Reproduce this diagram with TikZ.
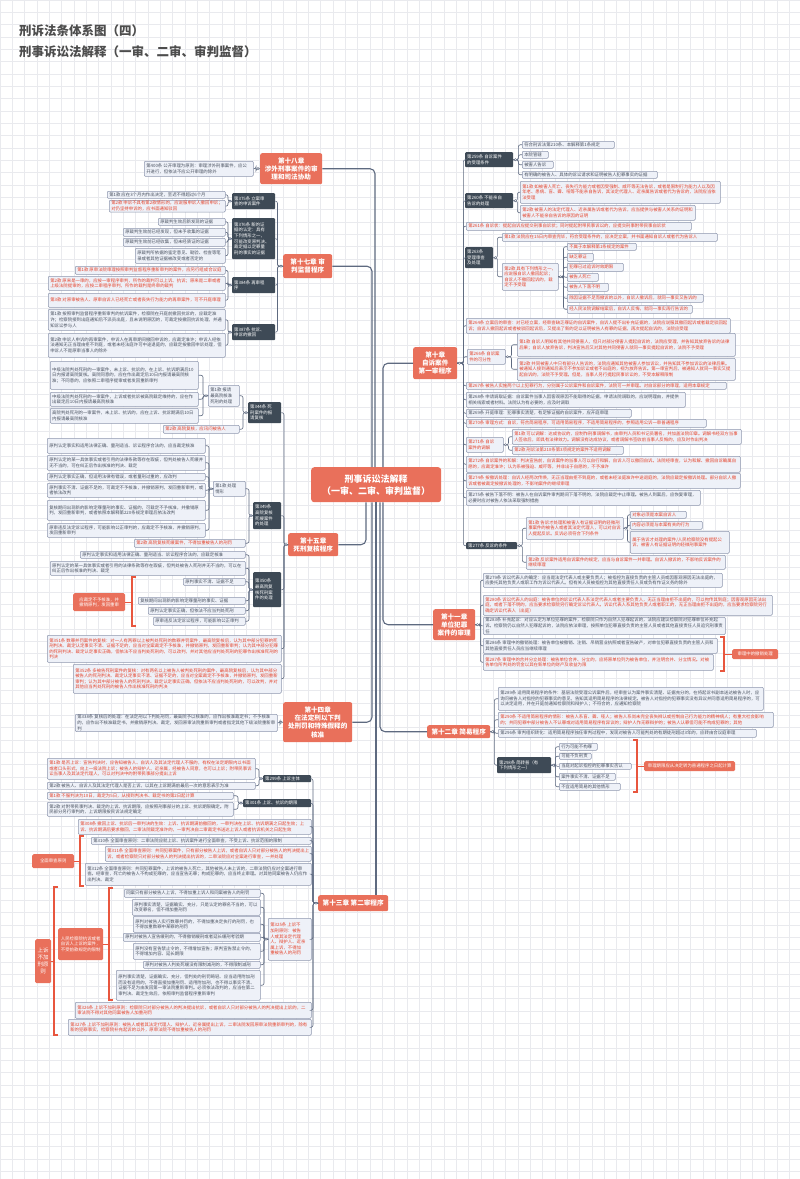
\documentclass[tikz,border=0pt]{standalone}
\usepackage{fontspec}
\setmainfont{Noto Sans CJK SC}
\usetikzlibrary{calc}
\XeTeXlinebreaklocale "zh"
\XeTeXlinebreakskip=0pt plus 0.3pt
\definecolor{sal}{HTML}{E9705B}
\definecolor{drk}{HTML}{3E4A56}
\definecolor{bxf}{HTML}{EEF1F8}
\definecolor{bxd}{HTML}{8E97AE}
\definecolor{txg}{HTML}{4A5260}
\definecolor{txr}{HTML}{E5432B}
\definecolor{cnl}{HTML}{5E6A80}
\definecolor{grd}{HTML}{E9EAEE}
\definecolor{brc}{HTML}{E8563E}
\definecolor{ttl}{HTML}{4D4D4D}
\tikzset{
 bstyle/.style={inner xsep=2pt,inner ysep=1pt,align=flush left,font=\fontsize{4.4}{5.6}\selectfont,rounded corners=1pt},
 gbox/.style={bstyle,fill=bxf,draw=bxd,line width=0.5pt,text=txg},
 rbox/.style={gbox,text=txr},
 dbox/.style={bstyle,fill=drk,text=white},
 chap/.style={bstyle,fill=sal,text=white,align=flush center,font=\fontsize{6.6}{8.2}\selectfont\bfseries,rounded corners=2pt},
 cen/.style={bstyle,fill=sal,text=white,align=flush center,font=\fontsize{9}{12}\selectfont\bfseries,rounded corners=3pt},
 lab/.style={bstyle,fill=sal,text=white,align=flush center,rounded corners=1.5pt},
 conn/.style={draw=cnl,line width=0.6pt,rounded corners=2pt},
 cmain/.style={draw=cnl,line width=1.1pt,rounded corners=5pt},
 brk/.style={draw=brc,line width=1.2pt},
 mk/.style={draw=cnl,fill=white,line width=0.4pt},
}
\newcommand\mybox[7]{%
 \pgfmathsetmacro\bxw{#5-#3}%
 \pgfmathsetmacro\bxh{#6-#4}%
 \pgfmathsetmacro\bxt{#5-#3-4}%
 \node[#1,anchor=north west,minimum width=\bxw pt,minimum height=\bxh pt,text width=\bxt pt] (#2) at (#3,-#4) {#7};}
\newcommand\conL[3]{\draw[conn] (#1.west) -- ++(-#3pt,0) |- (#2.east);}
\newcommand\conR[3]{\draw[conn] (#1.east) -- ++(#3pt,0) |- (#2.west);}
\newcommand\mkW[1]{\draw[mk] ($(#1.west)+(-2,0)$) circle (1.2pt);}
\newcommand\mkE[1]{\draw[mk] ($(#1.east)+(2,0)$) circle (1.2pt);}
\begin{document}
\begin{tikzpicture}[x=1pt,y=1pt]
\useasboundingbox (0,0) rectangle (800,-1179);
\fill[white] (0,0) rectangle (800,-1179);
\draw[grd,line width=0.5pt] (0,-1179) grid[step=12.33pt] (800,0);

% titles
\node[anchor=west,inner sep=0pt,font=\fontsize{12.5}{14}\selectfont\bfseries,text=ttl] (tt1) at (19,-31) {刑诉法条体系图（四）};
\node[anchor=west,inner sep=0pt,font=\fontsize{12.5}{14}\selectfont\bfseries,text=ttl] (tt2) at (19,-51.5) {刑事诉讼法解释（一审、二审、审判监督）};

% centre and chapters
\mybox{cen}{cen}{311}{467}{441}{502}{刑事诉讼法解释\\（一审、二审、审判监督）}
\mybox{chap}{c18}{260}{153}{322}{184}{第十八章\\涉外刑事案件的审\\理和司法协助}
\mybox{chap}{c17}{283}{254}{332}{278}{第十七章 审\\判监督程序}
\mybox{chap}{c15}{288}{533}{338}{556}{第十五章\\死刑复核程序}
\mybox{chap}{c14}{283}{702}{352}{742}{第十四章\\在法定刑以下判\\处刑罚和特殊假释的\\核准}
\mybox{chap}{c13}{318}{895}{388}{911}{第十三章 第二审程序}
\mybox{chap}{c10}{413}{347}{457}{379}{第十章\\自诉案件\\第一审程序}
\mybox{chap}{c11}{433}{609}{475}{640}{第十一章\\单位犯罪\\案件的审理}
\mybox{chap}{c12}{427}{725}{490}{738}{第十二章 简易程序}

% ===== chapter 18
\mybox{gbox}{a400}{144}{161}{253}{176}{第400条 公开审理为原则：审理涉外刑事案件，应公开进行，但依法不应公开审理的除外}

% ===== chapter 17
\mybox{dbox}{d375}{232}{193}{275}{209}{第375条 立案审\\查的申诉案件}
\mybox{gbox}{a375a}{107}{191}{225}{198}{第1款 应在3个月内作出决定，至迟不得超过6个月}
\mybox{rbox}{a375b}{109}{200}{225}{209}{第2款 申诉不具有第2款情形的，应说服申诉人撤回申诉；对仍坚持申诉的，应书面通知驳回}
\mybox{dbox}{d376}{232}{218}{275}{259}{第376条 新的证\\据的认定：具有\\下列情形之一，\\可能改变原判决、\\裁定据以定罪量\\刑的事实的证据}
\mybox{gbox}{g376a}{158}{218}{225}{225}{原裁判生效后新发现的证据}
\mybox{gbox}{g376b}{123}{228}{225}{236}{原裁判生效前已经发现，但未予收集的证据}
\mybox{gbox}{g376c}{123}{238}{225}{246}{原裁判生效前已经收集，但未经质证的证据}
\mybox{gbox}{g376d}{135}{248}{225}{263}{原裁判所依据的鉴定意见、勘验、检查等笔录或者其他证据被改变或者否定的}
\mybox{dbox}{d384}{232}{277}{275}{293}{第384条 再审程\\序}
\mybox{rbox}{r384a}{75}{266}{225}{274}{第1款 原审法院审理按照审判监督程序重新审判的案件，应另行组成合议庭}
\mybox{rbox}{r384b}{48}{276}{225}{290}{第2款 原来是一审的，应按一审程序审判，所作的裁判可以上诉、抗诉；原来是二审或者上级法院提审的，应按二审程序审判，所作的裁判是终审的裁判}
\mybox{rbox}{r384c}{48}{293}{225}{307}{第3款 对原审被告人、原审自诉人已经死亡或者丧失行为能力的再审案件，可不开庭审理}
\mybox{dbox}{d387}{232}{324}{275}{340}{第387条 抗诉、\\申诉的撤回}
\mybox{gbox}{g387a}{48}{309}{225}{330}{第1款 按照审判监督程序重新审判的抗诉案件，检察院在开庭前撤回抗诉的，应裁定准许；检察院接到出庭通知后不派员出庭，且未说明原因的，可裁定按撤回抗诉处理，并通知诉讼参与人}
\mybox{gbox}{g387b}{48}{333}{225}{357}{第2款 申诉人申诉的再审案件，申诉人在再审期间撤回申诉的，应裁定准许；申诉人经依法通知无正当理由拒不到庭，或者未经法庭许可中途退庭的，应裁定按撤回申诉处理，但申诉人不是原审当事人的除外}

% ===== chapter 15
\mybox{dbox}{d344}{248}{402}{281}{423}{第344条 死\\刑案件的报\\请复核}
\mybox{gbox}{r344k}{208}{385}{239}{406}{第1款 报请\\最高院核准\\死刑的处理}
\mybox{gbox}{g344a}{50}{361}{198}{389}{中级法院判处死刑的一审案件，未上诉、抗诉的，在上诉、抗诉期满后10日内报请高院复核。高院同意的，应在作出裁定后10日内报请最高院核准；不同意的，应依照二审程序提审或者发回重新审判}
\mybox{gbox}{g344b}{50}{392}{198}{406}{中级法院判处死刑的一审案件，上诉或者抗诉被高院裁定维持的，应在作出裁定后10日内报请最高院核准}
\mybox{gbox}{g344c}{50}{408}{198}{423}{高院判处死刑的一审案件，未上诉、抗诉的，应在上诉、抗诉期满后10日内报请最高院核准}
\mybox{rbox}{r344m}{163}{425}{239}{433}{第2款 高院复核，应讯问被告人}
\mybox{dbox}{d349}{253}{502}{281}{529}{第349条\\高院复核\\死缓案件\\的处理}
\mybox{gbox}{g349k}{213}{481}{245}{496}{第1款 处理\\情形}
\mybox{gbox}{g349a}{47}{438}{205}{453}{原判认定事实和适用法律正确、量刑适当、诉讼程序合法的，应当裁定核准}
\mybox{gbox}{g349b}{47}{455}{205}{470}{原判认定的某一具体事实或者引用的法律条款等存在瑕疵，但判处被告人死缓并无不当的，可在纠正后作出核准的判决、裁定}
\mybox{gbox}{g349c}{47}{473}{205}{480}{原判认定事实正确，但适用法律有错误，或者量刑过重的，应改判}
\mybox{gbox}{g349d}{47}{483}{205}{497}{原判事实不清、证据不足的，可裁定不予核准，并撤销原判，发回重新审判，或者依法改判}
\mybox{gbox}{g349e}{47}{500}{205}{520}{复核期间出现新的影响定罪量刑的事实、证据的，可裁定不予核准，并撤销原判，发回重新审判，或者依照本解释第220条规定审理后依法改判}
\mybox{gbox}{g349f}{47}{523}{205}{537}{原审违反法定诉讼程序，可能影响公正审判的，应裁定不予核准，并撤销原判，发回重新审判}
\mybox{rbox}{r349m}{134}{539}{245}{547}{第2款 高院复核死缓案件，不得加重被告人的刑罚}
\mybox{dbox}{d350}{253}{572}{281}{607}{第350条\\最高院复\\核死刑案\\件的处理}
\mybox{gbox}{g350a}{80}{551}{245}{558}{原判认定事实和适用法律正确、量刑适当、诉讼程序合法的，应裁定核准}
\mybox{gbox}{g350b}{50}{561}{245}{575}{原判认定的某一具体事实或者引用的法律条款等存在瑕疵，但判处被告人死刑并无不当的，可以在纠正后作出核准的判决、裁定}
\mybox{gbox}{g350c}{183}{578}{245}{585}{原判事实不清、证据不足}
\mybox{gbox}{g350d}{138}{597}{245}{604}{复核期间出现新的影响定罪量刑的事实、证据}
\mybox{gbox}{g350e}{148}{607}{245}{614}{原判认定事实正确，但依法不应当判处死刑}
\mybox{gbox}{g350f}{153}{617}{245}{625}{原审违反法定诉讼程序，可能影响公正审判}
\mybox{lab}{lab350}{73}{593}{125}{611}{应裁定不予核准，并\\撤销原判，发回重审}
\mybox{rbox}{r351}{47}{635}{281}{662}{第351条 数罪并罚案件的复核：对一人有两罪以上被判处死刑的数罪并罚案件，最高院复核后，认为其中部分犯罪的死刑判决、裁定认定事实不清、证据不足的，应当对全案裁定不予核准，并撤销原判，发回重新审判；认为其中部分犯罪的死刑判决、裁定认定事实正确，但依法不应当判处死刑的，可以改判，并对其他应当判处死刑的犯罪作出核准死刑的判决}
\mybox{rbox}{r352}{73}{664}{281}{693}{第352条 多被告死刑案件的复核：对有两名以上被告人被判处死刑的案件，最高院复核后，认为其中部分被告人的死刑判决、裁定认定事实不清、证据不足的，应当对全案裁定不予核准，并撤销原判，发回重新审判；认为其中部分被告人的死刑判决、裁定认定事实正确，但依法不应当判处死刑的，可以改判，并对其他应当判处死刑的被告人作出核准死刑的判决}

% ===== chapter 14
\mybox{gbox}{g338}{75}{714}{277}{729}{第338条 复核后的处理：在法定刑以下判处刑罚，最高院予以核准的，应作出核准裁定书；不予核准的，应作出不核准裁定书，并撤销原判决、裁定，发回原审法院重新审判或者指定其他下级法院重新审判}

% ===== chapter 13
\mybox{dbox}{d299}{263}{775}{311}{782}{第299条 上诉主体}
\mybox{rbox}{r299a}{47}{758}{255}{779}{第1款 是否上诉：宣告判决时，应告知被告人、自诉人及其法定代理人不服的，有权在法定期限内以书面或者口头形式，向上一级法院上诉；被告人的辩护人、近亲属，经被告人同意，也可以上诉；附带民事诉讼当事人及其法定代理人，可以对判决中的附带民事部分提出上诉}
\mybox{gbox}{g299b}{47}{782}{255}{789}{第2款 被告人、自诉人及其法定代理人是否上诉，以其在上诉期满前最后一次的意思表示为准}
\mybox{dbox}{d301}{243}{799}{311}{807}{第301条 上诉、抗诉的期限}
\mybox{rbox}{r301a}{47}{792}{233}{799}{第1款 不服判决为10日，裁定为5日，从接到判决书、裁定书的第2日起计算}
\mybox{gbox}{g301b}{47}{802}{233}{816}{第2款 对附带民事判决、裁定的上诉、抗诉期限，应按照刑事部分的上诉、抗诉期限确定。附民部分另行审判的，上诉期限按民诉法规定确定}
\mybox{rbox}{r308}{78}{819}{311}{834}{第308条 撤回上诉、抗诉后一审判决的生效：上诉、抗诉期满前撤回的，一审判决在上诉、抗诉期满之日起生效；上诉、抗诉期满后要求撤回，二审法院裁定准许的，一审判决自二审裁定书送达上诉人或者抗诉机关之日起生效}
\mybox{gbox}{g310}{91}{837}{311}{844}{第310条 全面审查原则：二审法院应就上诉、抗诉案件进行全面审查，不受上诉、抗诉范围的限制}
\mybox{rbox}{r311}{105}{846}{311}{861}{第311条 全面审查原则：共同犯罪案件，只有部分被告人上诉，或者自诉人只对部分被告人的判决提出上诉，或者检察院只对部分被告人的判决提出抗诉的，二审法院应对全案进行审查，一并处理}
\mybox{gbox}{g312}{85}{863}{311}{885}{第312条 全面审查原则：共同犯罪案件，上诉的被告人死亡，其他被告人未上诉的，二审法院仍应对全案进行审查。经审查，死亡的被告人不构成犯罪的，应当宣告无罪；构成犯罪的，应当终止审理。对其他同案被告人仍应作出判决、裁定}
\mybox{lab}{labQ}{32}{854}{74}{868}{全面审查原则}
\mybox{rbox}{r325}{268}{918}{311}{960}{第325条 上诉不\\加刑原则：被告\\人或其法定代理\\人、辩护人、近亲\\属上诉，不得加\\重被告人的刑罚}
\mybox{gbox}{g325a}{124}{889}{260}{897}{同案只有部分被告人上诉，不得加重上诉人和同案被告人的刑罚}
\mybox{gbox}{g325b}{132}{899}{260}{915}{原判事实清楚，证据确实、充分，只是认定的罪名不当的，可以改变罪名，但不得加重刑罚}
\mybox{gbox}{g325c}{133}{916}{260}{932}{原判对被告人实行数罪并罚的，不得加重决定执行的刑罚，也不得加重数罪中某罪的刑罚}
\mybox{gbox}{g325d}{123}{933}{260}{941}{原判对被告人宣告缓刑的，不得撤销缓刑或者延长缓刑考验期}
\mybox{gbox}{g325e}{133}{943}{260}{959}{原判没有宣告禁止令的，不得增加宣告；原判宣告禁止令的，不得增加内容、延长期限}
\mybox{gbox}{g325f}{143}{961}{260}{968}{原判对被告人判处死缓没有限制减刑的，不得限制减刑}
\mybox{gbox}{g325g}{116}{970}{260}{1000}{原判事实清楚，证据确实、充分，但判处的刑罚畸轻、应当适用附加刑而没有适用的，不得直接加重刑罚、适用附加刑，也不得以事实不清、证据不足为由发回第一审法院重新审判。必须依法改判的，应当在第二审判决、裁定生效后，依照审判监督程序重新审判}
\mybox{lab}{labI}{58}{928}{103}{960}{人民检察院抗诉或者自诉人上诉的案件，不受前款规定的限制}
\node[lab,anchor=north west,minimum width=16pt,minimum height=44pt,text width=12pt,font=\fontsize{5.5}{7}\selectfont] (labO) at (35,-939) {上诉不加刑原则};
\mybox{rbox}{r326}{75}{1002}{311}{1018}{第326条 上诉不加刑原则：检察院只对部分被告人的判决提出抗诉，或者自诉人只对部分被告人的判决提出上诉的，二审法院不得对其他同案被告人加重刑罚}
\mybox{rbox}{r327}{68}{1019}{311}{1035}{第327条 上诉不加刑原则：被告人或者其法定代理人、辩护人、近亲属提出上诉，二审法院发回原审法院重新审判的，除有新的犯罪事实，检察院补充起诉的以外，原审法院不得加重被告人的刑罚}

% ===== chapter 10
\mybox{dbox}{d259}{465}{152}{513}{167}{第259条 自诉案件\\的受理条件}
\mybox{gbox}{g259a}{522}{141}{614}{148}{符合刑诉法第210条、本解释第1条规定}
\mybox{gbox}{g259b}{522}{151}{548}{158}{本院管辖}
\mybox{gbox}{g259c}{522}{161}{553}{168}{被害人告诉}
\mybox{gbox}{g259d}{522}{171}{657}{178}{有明确的被告人、具体的诉讼请求和证明被告人犯罪事实的证据}
\mybox{dbox}{d260}{465}{193}{513}{208}{第260条 不能亲自\\告诉的处理}
\mybox{rbox}{r260a}{520}{181}{720}{203}{第1款 如被害人死亡、丧失行为能力或者因受强制、威吓等无法告诉，或者是限制行为能力人以及因年老、患病、盲、聋、哑等不能亲自告诉，其法定代理人、近亲属告诉或者代为告诉的，法院应当依法受理}
\mybox{rbox}{r260b}{520}{205}{695}{220}{第2款 被害人的法定代理人、近亲属告诉或者代为告诉，应当提供与被害人关系的证明和被害人不能亲自告诉的原因的证明}
\mybox{rbox}{r261}{466}{222}{691}{230}{第261条 自诉状：提起自诉应提交刑事自诉状；同时提起附带民事诉讼的，应提交刑事附带民事自诉状}
\mybox{dbox}{d263}{465}{247}{493}{268}{第263条\\受理审查\\及处理}
\mybox{rbox}{r263a}{502}{233}{717}{241}{第1款 法院应在15日内审查完毕，符合受理条件的，应决定立案，并书面通知自诉人或者代为告诉人}
\mybox{rbox}{r263b}{502}{263}{558}{290}{第2款 具有下列情形之一，应说服自诉人撤回起诉；自诉人不撤回起诉的，裁定不予受理}
\mybox{rbox}{q263a}{567}{243}{636}{250}{不属于本解释第1条规定的案件}
\mybox{rbox}{q263b}{567}{253}{593}{261}{缺乏罪证}
\mybox{rbox}{q263c}{567}{263}{623}{271}{犯罪已过追诉时效期限}
\mybox{rbox}{q263d}{567}{273}{598}{281}{被告人死亡}
\mybox{rbox}{q263e}{567}{283}{608}{291}{被告人下落不明}
\mybox{rbox}{q263f}{567}{294}{703}{302}{除因证据不足而撤诉的以外，自诉人撤诉后，就同一事实又告诉的}
\mybox{rbox}{q263g}{567}{305}{692}{313}{经人民法院调解结案后，自诉人反悔，就同一事实再行告诉的}
\mybox{rbox}{r264}{466}{318}{730}{333}{第264条 立案后的审查：对已经立案，经审查缺乏罪证的自诉案件，自诉人提不出补充证据的，法院应说服其撤回起诉或者裁定驳回起诉；自诉人撤回起诉或者被驳回起诉后，又提出了新的足以证明被告人有罪的证据，再次提起自诉的，法院应受理}
\mybox{rbox}{r266}{467}{349}{505}{364}{第266条 自诉案\\件的可分性}
\mybox{rbox}{r266a}{517}{333}{735}{356}{第1款 自诉人明知有其他共同侵害人，但只对部分侵害人提起自诉的，法院应受理，并告知其放弃告诉的法律后果；自诉人放弃告诉，判决宣告后又对其他共同侵害人就同一事实提起自诉的，法院不予受理}
\mybox{rbox}{r266b}{517}{358}{735}{380}{第2款 共同被害人中只有部分人告诉的，法院应通知其他被害人参加诉讼，并告知其不参加诉讼的法律后果。被通知人接到通知后表示不参加诉讼或者不出庭的，视为放弃告诉。第一审宣判后，被通知人就同一事实又提起自诉的，法院不予受理。但是，当事人另行提起民事诉讼的，不受本解释限制}
\mybox{rbox}{r267}{466}{382}{726}{389}{第267条 被告人实施两个以上犯罪行为，分别属于公诉案件和自诉案件，法院可一并审理。对自诉部分的审理，适用本章规定}
\mybox{gbox}{g268}{466}{392}{685}{407}{第268条 申请调取证据：自诉案件当事人因客观原因不能取得的证据，申请法院调取的，应说明理由，并提供相关线索或者材料。法院认为有必要的，应及时调取}
\mybox{gbox}{g269}{466}{409}{631}{417}{第269条 开庭审理：犯罪事实清楚，有足够证据的自诉案件，应开庭审理}
\mybox{rbox}{r270}{466}{419}{706}{427}{第270条 审理方式：自诉，符合简易程序，可适用简易程序，不适用简易程序的，参照适用公诉一审普通程序}
\mybox{rbox}{r271}{466}{437}{503}{452}{第271条 自诉\\案件的调解}
\mybox{rbox}{r271a}{512}{429}{741}{444}{第1款 可以调解：达成协议的，应制作刑事调解书，由审判人员和书记员署名，并加盖法院印章。调解书经双方当事人签收后，即具有法律效力。调解没有达成协议，或者调解书签收前当事人反悔的，应及时作出判决}
\mybox{rbox}{r271b}{512}{446}{623}{454}{第2款 刑诉法第210条第3项规定的案件不适用调解}
\mybox{rbox}{r272}{466}{456}{740}{472}{第272条 自诉案件的和解：判决宣告前，自诉案件的当事人可以自行和解，自诉人可以撤回自诉。法院经审查，认为和解、撤回自诉确属自愿的，应裁定准许；认为系被强迫、威吓等，并非出于自愿的，不予准许}
\mybox{rbox}{r274}{466}{473}{740}{488}{第274条 按撤诉处理：自诉人经两次传唤，无正当理由拒不到庭的，或者未经法庭准许中途退庭的，法院应裁定按撤诉处理。部分自诉人撤诉或者被裁定按撤诉处理的，不影响案件的继续审理}
\mybox{gbox}{g275}{466}{490}{700}{505}{第275条 被告下落不明：被告人在自诉案件审判期间下落不明的，法院应裁定中止审理。被告人到案后，应恢复审理，必要时应对被告人依法采取强制措施}
\mybox{dbox}{d277}{466}{542}{517}{549}{第277条 反诉的条件}
\mybox{rbox}{r277a}{526}{517}{623}{539}{第1款 告诉才处理和被害人有证据证明的轻微刑事案件的被告人或者其法定代理人，可以对自诉人提起反诉。反诉必须符合下列条件}
\mybox{rbox}{q277a}{630}{511}{686}{518}{对象必须是本案自诉人}
\mybox{rbox}{q277b}{630}{521}{702}{529}{内容必须是与本案有关的行为}
\mybox{rbox}{q277c}{630}{531}{729}{553}{属于告诉才处理的案件/人民检察院没有提起公诉，被害人有证据证明的轻微刑事案件}
\mybox{rbox}{r277b}{526}{555}{725}{569}{第2款 反诉案件适用自诉案件的规定，应当与自诉案件一并审理。自诉人撤诉的，不影响反诉案件的继续审理}

% ===== chapter 11
\mybox{gbox}{g279}{483}{573}{722}{587}{第279条 诉讼代表人的确定：应当是法定代表人或主要负责人；被指控为直接负责的主管人员或因客观原因无法出庭的，应委托其他负责人或职工作为诉讼代表人。但有关人员被指控为其他直接责任人员或负有作证义务的除外}
\mybox{rbox}{r280}{483}{595}{772}{615}{第280条 诉讼代表人的出庭：被告单位的诉讼代表人系法定代表人或者主要负责人，无正当理由拒不出庭的，可以拘传其到庭；因客观原因无法出庭，或者下落不明的，应当要求检察院另行确定诉讼代表人。诉讼代表人系其他负责人或者职工的，无正当理由拒不出庭的，应当要求检察院另行确定诉讼代表人（出庭）}
\mybox{gbox}{g283}{483}{617}{725}{633}{第283条 补充起诉：对应认定为单位犯罪的案件，检察院只作为自然人犯罪起诉的，法院应建议检察院对犯罪单位补充起诉。检察院仍以自然人犯罪起诉的，法院应依法审理，按照单位犯罪直接负责的主管人员或者其他直接责任人员追究刑事责任}
\mybox{gbox}{g286}{483}{638}{717}{653}{第286条 审理中的撤销处理：被告单位被撤销、注销、吊销营业执照或者宣告破产，对单位犯罪直接负责的主管人员和其他直接责任人员应当继续审理}
\mybox{rbox}{r287}{483}{654}{713}{670}{第287条 审理中的合并分立处理：被告单位合并、分立的，应将原单位列为被告单位，并注明合并、分立情况。对被告单位所判处的罚金以其在新单位的财产及收益为限}
\mybox{lab}{lab287}{732}{649}{778}{659}{审理中的撤销处理}

% ===== chapter 12
\mybox{gbox}{g289}{498}{687}{763}{710}{第289条 适用简易程序的条件：基层法院受理公诉案件后，经审查认为案件事实清楚、证据充分的，在将起诉书副本送达被告人时，应询问被告人对指控的犯罪事实的意见，告知其适用简易程序的法律规定。被告人对指控的犯罪事实没有异议并同意适用简易程序的，可以决定适用，并在开庭前通知检察院和辩护人；不符合的，应通知检察院}
\mybox{rbox}{r290}{498}{712}{773}{727}{第290条 不适用简易程序的情形：被告人系盲、聋、哑人；被告人系尚未完全丧失辨认或控制自己行为能力的精神病人；有重大社会影响的；共同犯罪中部分被告人不认罪或对适用简易程序有异议的；辩护人作无罪辩护的；被告人认罪但可能不构成犯罪的；其他}
\mybox{gbox}{g296}{498}{729}{756}{737}{第296条 审判组织转化：适用简易程序独任审判过程中，发现对被告人可能判处的有期徒刑超过3年的，应转由合议庭审理}
\mybox{dbox}{d298}{497}{757}{551}{773}{第298条 简转普（有\\下列情形之一）}
\mybox{gbox}{q298a}{559}{743}{597}{750}{行为可能不构罪}
\mybox{gbox}{q298b}{559}{753}{591}{759}{可能不负刑责}
\mybox{gbox}{q298c}{559}{763}{631}{769}{当庭对起诉指控的犯罪事实否认}
\mybox{gbox}{q298d}{559}{773}{615}{780}{案件事实不清、证据不足}
\mybox{gbox}{q298e}{559}{783}{620}{790}{不宜适用简易的其他情形}
\mybox{lab}{lab298}{644}{761}{735}{771}{审理期限应从决定转为普通程序之日起计算}

% ===== main connectors from the centre
\draw[cmain] ($(cen.north west)+(64,0)$) |- (c18.east);
\draw[cmain] ($(cen.north west)+(61,0)$) |- (c17.east);
\draw[cmain] ($(cen.north west)+(72,0)$) |- (c10.west);
\draw[cmain] ($(cen.south west)+(55,0)$) |- (c15.east);
\draw[cmain] ($(cen.south west)+(61,0)$) |- (c14.east);
\coordinate (b13) at ($(cen.south west)+(65,0)$);
\draw[cmain] (b13) -- (b13 |- c13.north);
\draw[cmain] ($(cen.south west)+(69,0)$) |- (c12.west);
\draw[cmain] ($(cen.south west)+(72,0)$) |- (c11.west);

% ===== child connectors, left side
\conL{c18}{a400}{4}
\foreach \c in {d375,d376,d384,d387} {\conL{c17}{\c}{5.5}}
\foreach \c in {a375a,a375b} {\conL{d375}{\c}{4}}
\foreach \c in {g376a,g376b,g376c,g376d} {\conL{d376}{\c}{4}}
\foreach \c in {r384a,r384b,r384c} {\conL{d384}{\c}{4}}
\foreach \c in {g387a,g387b} {\conL{d387}{\c}{4}}
\foreach \c in {d344,d349,d350,r351,r352} {\conL{c15}{\c}{4}}
\foreach \c in {r344k,r344m} {\conL{d344}{\c}{5}}
\foreach \c in {g344a,g344b,g344c} {\conL{r344k}{\c}{5}}
\foreach \c in {g349k,r349m} {\conL{d349}{\c}{4}}
\foreach \c in {g349a,g349b,g349c,g349d,g349e,g349f} {\conL{g349k}{\c}{4}}
\foreach \c in {g350a,g350b,g350c,g350d,g350e,g350f} {\conL{d350}{\c}{4}}
\conL{c14}{g338}{3}
\foreach \c in {d299,d301,r308,g310,r311,g312,r325,r326,r327} {\conL{c13}{\c}{5}}
\foreach \c in {r299a,g299b} {\conL{d299}{\c}{4}}
\foreach \c in {r301a,g301b} {\conL{d301}{\c}{5}}
\foreach \c in {g325a,g325b,g325c,g325d,g325e,g325f,g325g} {\conL{r325}{\c}{4}}

% ===== child connectors, right side
\foreach \c in {d259,d260,r261,d263,r264,r266,r267,g268,g269,r270,r271,r272,r274,g275,d277} {\conR{c10}{\c}{6}}
\foreach \c in {g259a,g259b,g259c,g259d} {\conR{d259}{\c}{5}}
\foreach \c in {r260a,r260b} {\conR{d260}{\c}{4}}
\foreach \c in {r263a,r263b} {\conR{d263}{\c}{4}}
\foreach \c in {q263a,q263b,q263c,q263d,q263e,q263f,q263g} {\conR{r263b}{\c}{5}}
\foreach \c in {r266a,r266b} {\conR{r266}{\c}{6}}
\foreach \c in {r271a,r271b} {\conR{r271}{\c}{5}}
\foreach \c in {r277a,r277b} {\conR{d277}{\c}{5}}
\foreach \c in {q277a,q277b,q277c} {\conR{r277a}{\c}{4}}
\foreach \c in {g279,r280,g283,g286,r287} {\conR{c11}{\c}{5}}
\foreach \c in {g289,r290,g296,d298} {\conR{c12}{\c}{4}}
\foreach \c in {q298a,q298b,q298c,q298d,q298e} {\conR{d298}{\c}{4}}

% ===== markers
\foreach \p in {c18,c17,d375,d376,d384,d387,c15,d344,r344k,d349,g349k,d350,c14,c13,d299,d301,r325} {\mkW{\p}}
\foreach \p in {c10,d259,d260,d263,r263b,r266,r271,d277,r277a,c11,c12,d298} {\mkE{\p}}

% ===== brackets
\draw[brk] (136,-577) -- (132,-577) -- (132,-626) -- (136,-626);
\draw[brk] (lab350.east) -- ++(7,0);
\draw[brk] (84,-836) -- (80,-836) -- (80,-886) -- (84,-886);
\draw[brk] (labQ.east) -- ++(6,0);
\draw[brk] (113,-888) -- (109,-888) -- (109,-1000) -- (113,-1000);
\draw[brk] (labI.east) -- ++(6,0);
\draw[brk] (58,-887) -- (54,-887) -- (54,-1035) -- (58,-1035);
\draw[brk] (labO.east) -- ++(3,0);
\draw[brk] (720,-637) -- (724,-637) -- (724,-671) -- (720,-671);
\draw[brk] (lab287.west) -- ++(-8,0);
\draw[brk] (633,-740) -- (637,-740) -- (637,-792) -- (633,-792);
\draw[brk] (lab298.west) -- ++(-7,0);
\end{tikzpicture}
\end{document}
